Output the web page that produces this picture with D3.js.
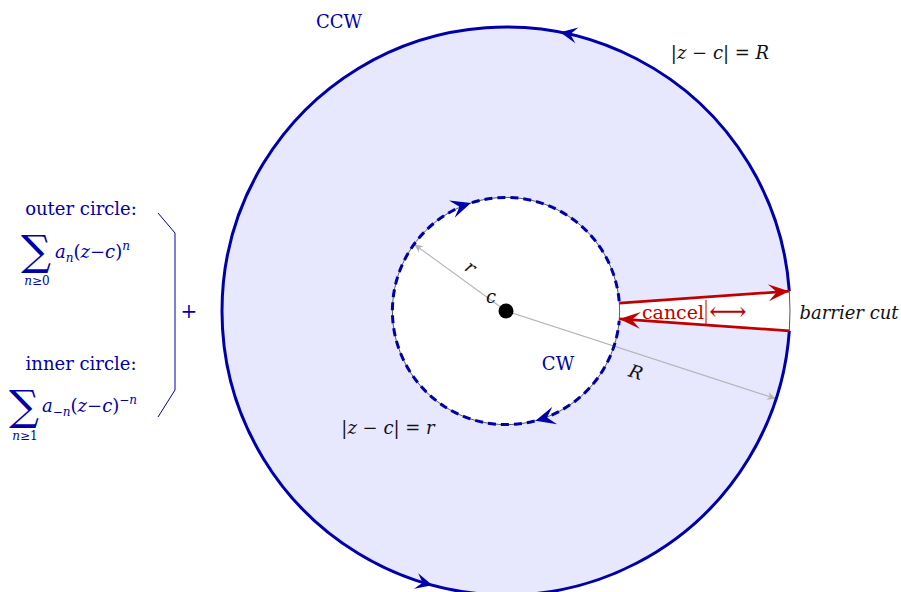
<!DOCTYPE html>
<html><head><meta charset="utf-8">
<script src="https://cdn.jsdelivr.net/npm/d3@7"></script>
<style>
html,body{margin:0;padding:0;background:#fff;}
svg{display:block;}
text{font-family:"DejaVu Serif",serif;}
</style></head>
<body>
<svg id="c" width="901" height="592"></svg>
<script>
// ---- data (complex-plane units, angles in degrees) ----
const radii = {inner: 1, outer: 2.5};          // r and R
const barrierAngles = [-4, 4];                   // edges of the barrier cut
const outerArrowAngles = [79, 255];              // CCW arrows on |z-c|=R
const innerArrowAngles = [108, 285];             // CW arrows on |z-c|=r
const radiusLineAngles = {r: 144, R: -18};       // gray radius indicators
const colors = {blue:"#0000a8", fill:"#e7e7fd", red:"#c00000", gray:"#b4b4b4"};

const W = 901, H = 592;
const cx = 506, cy = 311, unit = 113.6;
const x = d3.scaleLinear().domain([-1, 1]).range([cx - unit, cx + unit]);
const y = d3.scaleLinear().domain([-1, 1]).range([cy + unit, cy - unit]);
const rad = d => d * Math.PI / 180;
const px = (rr, a) => x(rr * Math.cos(rad(a)));
const py = (rr, a) => y(rr * Math.sin(rad(a)));
const pr = rr => x(rr) - x(0);

const svg = d3.select("#c");

// annulus fill
const arcGen = d3.arc();
svg.append("path")
  .attr("transform", `translate(${x(0)},${y(0)})`)
  .attr("d", arcGen({innerRadius: pr(radii.inner), outerRadius: pr(radii.outer), startAngle: 0, endAngle: 2*Math.PI}))
  .attr("fill", colors.fill);
// white wedge of the barrier cut (d3 angle = 90 - math angle)
svg.append("path")
  .attr("transform", `translate(${x(0)},${y(0)})`)
  .attr("d", arcGen({innerRadius: pr(radii.inner) - 1, outerRadius: pr(radii.outer),
     startAngle: rad(90 - barrierAngles[1] - 0.4), endAngle: rad(90 - barrierAngles[0] + 0.4)}))
  .attr("fill", "#fff");

// gray radius lines
function grayArrow(rr, a) {
  const x1 = px(rr, a), y1 = py(rr, a);
  svg.append("line").attr("x1", x(0)).attr("y1", y(0)).attr("x2", x1).attr("y2", y1)
    .attr("stroke", colors.gray).attr("stroke-width", 1.1);
  const ang = Math.atan2(y1 - y(0), x1 - x(0)) * 180 / Math.PI;
  svg.append("path").attr("d", "M0,0 L-9,-4 L-6.5,0 L-9,4 Z")
    .attr("transform", `translate(${x1},${y1}) rotate(${ang})`).attr("fill", colors.gray);
}
grayArrow(radii.inner, radiusLineAngles.r);
grayArrow(radii.outer, radiusLineAngles.R);

// thin underlying circles
function arcPath(rr, a0, a1) {
  const p = d3.path();
  p.arc(x(0), y(0), pr(rr), -rad(a0), -rad(a1), true);
  return p.toString();
}
svg.append("path").attr("d", arcPath(radii.inner, 0, 359.99)).attr("fill", "none")
  .attr("stroke", "#333").attr("stroke-width", 0.8);
svg.append("path").attr("d", arcPath(radii.outer, barrierAngles[1], 360 + barrierAngles[0])).attr("fill", "none")
  .attr("stroke", "#333").attr("stroke-width", 0.8);
svg.append("path").attr("d", arcPath(radii.outer, barrierAngles[0], barrierAngles[1])).attr("fill", "none")
  .attr("stroke", "#555").attr("stroke-width", 1);

// outer blue contour
svg.append("path").attr("d", arcPath(radii.outer, barrierAngles[1], 360 + barrierAngles[0])).attr("fill", "none")
  .attr("stroke", colors.blue).attr("stroke-width", 3);
// inner dashed contour
svg.append("path").attr("d", arcPath(radii.inner, barrierAngles[1] + 1, 360 + barrierAngles[0] - 1)).attr("fill", "none")
  .attr("stroke", colors.blue).attr("stroke-width", 3).attr("stroke-dasharray", "8,5");

// stealth arrow head
const stealth = (L, Wd) => `M0,0 L${-L},${-Wd} L${-0.6*L},0 L${-L},${Wd} Z`;
function circleArrow(rr, a, ccw, L, Wd) {
  const X = px(rr, a), Y = py(rr, a);
  let dx = -Math.sin(rad(a)), dy = -Math.cos(rad(a));
  if (!ccw) { dx = -dx; dy = -dy; }
  const ang = Math.atan2(dy, dx) * 180 / Math.PI;
  svg.append("path").attr("d", stealth(L, Wd))
    .attr("transform", `translate(${X},${Y}) rotate(${ang})`).attr("fill", colors.blue);
}
outerArrowAngles.forEach(a => circleArrow(radii.outer, a, true, 17, 8));
innerArrowAngles.forEach(a => circleArrow(radii.inner, a, false, 20, 9));

// red barrier lines
function redLine(a, outward) {
  const xi = px(radii.inner, a), yi = py(radii.inner, a);
  const xo = px(radii.outer, a), yo = py(radii.outer, a);
  svg.append("line").attr("x1", xi).attr("y1", yi).attr("x2", xo).attr("y2", yo)
    .attr("stroke", colors.red).attr("stroke-width", 2.8);
  const [tx, ty, fx, fy] = outward ? [xo, yo, xi, yi] : [xi, yi, xo, yo];
  const ang = Math.atan2(ty - fy, tx - fx) * 180 / Math.PI;
  svg.append("path").attr("d", stealth(21, 8.5))
    .attr("transform", `translate(${tx},${ty}) rotate(${ang})`).attr("fill", colors.red);
}
redLine(barrierAngles[1], true);
redLine(barrierAngles[0], false);

// center dot
svg.append("circle").attr("cx", x(0)).attr("cy", y(0)).attr("r", 7.5).attr("fill", "#000");

// ---- labels ----
function mathText(sel, parts, opts) {
  const t = sel.append("text").attr("x", opts.x).attr("y", opts.y)
    .attr("font-size", opts.size).attr("fill", opts.fill || "#111")
    .attr("text-anchor", opts.anchor || "start");
  if (opts.rotate) t.attr("transform", `rotate(${opts.rotate},${opts.x},${opts.y})`);
  parts.forEach(p => {
    const s = t.append("tspan").text(p.t);
    if (p.i) s.attr("font-style", "italic");
    if (p.dy) s.attr("dy", p.dy);
    if (p.fs) s.attr("font-size", p.fs);
    if (p.dx) s.attr("dx", p.dx);
  });
  return t;
}
const FS = 18;
mathText(svg, [{t:"CCW"}], {x:339, y:28, size:FS, fill:colors.blue, anchor:"middle"});
mathText(svg, [{t:"CW"}], {x:558, y:370, size:FS, fill:colors.blue, anchor:"middle"});
mathText(svg, [{t:"|"},{t:"z",i:1},{t:" − "},{t:"c",i:1},{t:"| = "},{t:"R",i:1}], {x:720, y:59, size:FS, anchor:"middle"});
mathText(svg, [{t:"|"},{t:"z",i:1},{t:" − "},{t:"c",i:1},{t:"| = "},{t:"r",i:1}], {x:388, y:434, size:FS, anchor:"middle"});
mathText(svg, [{t:"barrier cut",i:1}], {x:849, y:319, size:FS, anchor:"middle"});
mathText(svg, [{t:"c",i:1}], {x:491, y:303, size:FS, anchor:"middle"});
mathText(svg, [{t:"r",i:1}], {x:467, y:272, size:FS, anchor:"middle", rotate:36});
mathText(svg, [{t:"R",i:1}], {x:634, y:378, size:FS, anchor:"middle", rotate:18});

// cancel label
mathText(svg, [{t:"cancel"}], {x:673, y:319, size:19, fill:colors.red, anchor:"middle"});
svg.append("line").attr("x1", 706).attr("x2", 706).attr("y1", 300).attr("y2", 325)
  .attr("stroke", colors.red).attr("stroke-width", 1);
mathText(svg, [{t:"⟷"}], {x:728, y:320, size:26, fill:colors.red, anchor:"middle"});

// left side: Laurent series parts
mathText(svg, [{t:"outer circle:"}], {x:81, y:215, size:FS, fill:colors.blue, anchor:"middle"});
mathText(svg, [{t:"∑"}], {x:36, y:265, size:42, fill:colors.blue, anchor:"middle"});
mathText(svg, [{t:"n",i:1},{t:"≥0"}], {x:37, y:285, size:12, fill:colors.blue, anchor:"middle"});
mathText(svg, [{t:"a",i:1},{t:"n",i:1,fs:12,dy:4},{t:"(",dy:-4},{t:"z",i:1},{t:"−"},{t:"c",i:1},{t:")"},{t:"n",i:1,fs:12,dy:-8}],
  {x:55, y:258, size:FS, fill:colors.blue});

mathText(svg, [{t:"inner circle:"}], {x:81, y:370, size:FS, fill:colors.blue, anchor:"middle"});
mathText(svg, [{t:"∑"}], {x:24, y:420, size:42, fill:colors.blue, anchor:"middle"});
mathText(svg, [{t:"n",i:1},{t:"≥1"}], {x:25, y:440, size:12, fill:colors.blue, anchor:"middle"});
mathText(svg, [{t:"a",i:1},{t:"−",fs:12,dy:4},{t:"n",i:1,fs:12},{t:"(",dy:-4},{t:"z",i:1},{t:"−"},{t:"c",i:1},{t:")"},{t:"−",fs:12,dy:-8},{t:"n",i:1,fs:12}],
  {x:42, y:412, size:FS, fill:colors.blue});

// bracket and plus
svg.append("path").attr("d", "M158,213 L175,233 L175,390 L158,417")
  .attr("fill", "none").attr("stroke", colors.blue).attr("stroke-width", 1);
mathText(svg, [{t:"+"}], {x:189, y:318, size:20, fill:colors.blue, anchor:"middle"});
</script>
</body></html>
